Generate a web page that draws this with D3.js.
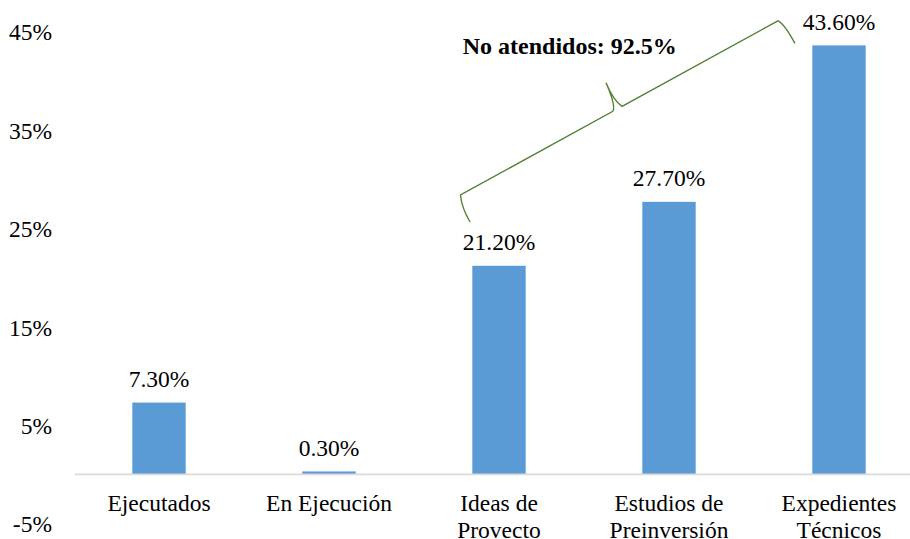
<!DOCTYPE html>
<html>
<head>
<meta charset="utf-8">
<script src="https://cdn.jsdelivr.net/npm/d3@7"></script>
<style>
  html, body { margin: 0; padding: 0; background: #fff; }
  svg { display: block; }
  svg text { font-family: "Liberation Serif", Tinos, "Times New Roman", Times, "Nimbus Roman", "DejaVu Serif", serif !important; fill: #000; }
</style>
</head>
<body>
<svg id="chart" width="910" height="539"></svg>
<script>
const categories = [["Ejecutados"], ["En Ejecución"], ["Ideas de", "Provecto"], ["Estudios de", "Preinversión"], ["Expedientes", "Técnicos"]];
const catKeys = categories.map(c => c.join(" "));
const values = [7.3, 0.3, 21.2, 27.7, 43.6];
const valueLabels = ["7.30%", "0.30%", "21.20%", "27.70%", "43.60%"];
const yTicks = [-5, 5, 15, 25, 35, 45];
const annotationText = "No atendidos: 92.5%";

const svg = d3.select("#chart");
const W = 910, H = 539;

const x = d3.scaleBand().domain(catKeys).range([74, 924]).paddingInner(0.686).paddingOuter(0.343);
const y = d3.scaleLinear().domain([-5, 45]).range([523.6, 31.6]);

// y tick labels (no axis line / gridlines)
const yAxis = d3.axisLeft(y).tickValues(yTicks).tickFormat(d => d + "%").tickSize(0).tickPadding(0);
const gy = svg.append("g").attr("transform", "translate(52,0)").call(yAxis);
gy.attr("font-family", null).attr("font-size", null);
gy.select(".domain").remove();
gy.selectAll("text").attr("font-size", "23.5px").attr("fill", "#000").attr("dy", "0.35em");

// bars
svg.append("g").selectAll("rect").data(values).join("rect")
  .attr("x", (d, i) => x(catKeys[i]))
  .attr("width", x.bandwidth())
  .attr("y", d => y(d))
  .attr("height", d => y(0) - y(d))
  .attr("fill", "#5b9bd5");

// baseline
svg.append("line")
  .attr("x1", 75).attr("x2", W)
  .attr("y1", y(0)).attr("y2", y(0))
  .attr("stroke", "#d9d9d9").attr("stroke-width", 1.6);

// value labels
svg.append("g").selectAll("text").data(values).join("text")
  .attr("x", (d, i) => x(catKeys[i]) + x.bandwidth() / 2)
  .attr("y", d => y(d) - 15.5)
  .attr("text-anchor", "middle")
  .attr("font-size", "23.5px")
  .text((d, i) => valueLabels[i]);

// category labels
const cl = svg.append("g").selectAll("text").data(categories).join("text")
  .attr("x", (d, i) => x(catKeys[i]) + x.bandwidth() / 2)
  .attr("y", 510.5)
  .attr("text-anchor", "middle")
  .attr("font-size", "23.5px");
cl.selectAll("tspan").data((d, i) => d.map(t => ({t, cx: x(catKeys[i]) + x.bandwidth() / 2}))).join("tspan")
  .attr("x", d => d.cx)
  .attr("dy", (d, j) => j === 0 ? 0 : 27.5)
  .text(d => d.t);

// curly brace annotation
const x2 = x(catKeys[2]), x4 = x(catKeys[4]);
const p = d3.path();
p.moveTo(x2 - 2.3, y(25.65));
p.quadraticCurveTo(x2 - 11, y(27.2), x2 - 11.8, y(28.4));
p.lineTo(x2 + 140.5, y(36.9));
p.quadraticCurveTo(x2 + 144, y(37.4), x2 + 133.7, y(39.8));
p.moveTo(x2 + 133.7, y(39.8));
p.quadraticCurveTo(x2 + 141, y(38.0), x2 + 149.7, y(37.4));
p.lineTo(x4 - 34.3, y(46.1));
p.quadraticCurveTo(x4 - 28, y(45.8), x4 - 17.3, y(43.8));
svg.append("path").attr("d", p.toString())
  .attr("fill", "none").attr("stroke", "#548235").attr("stroke-width", 1.4);

svg.append("text")
  .attr("x", x2 - 9.6).attr("y", 54)
  .attr("font-size", "24px").attr("font-weight", "bold")
  .text(annotationText);
</script>
</body>
</html>
